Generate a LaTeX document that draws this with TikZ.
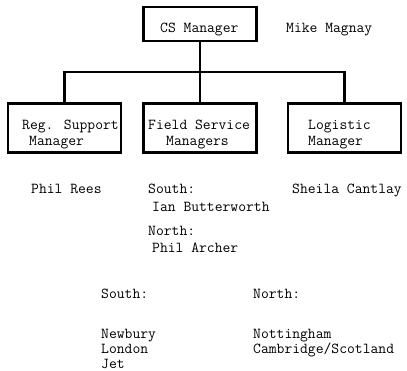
\documentclass[tikz,border=0pt]{standalone}
\usepackage{fontspec}
\begin{document}
\begin{tikzpicture}[x=1pt,y=-1pt,
  orgbox/.style={draw,line width=2.2pt,minimum width=113pt,minimum height=49pt,inner sep=0pt},
  wire/.style={line width=2.2pt},
  txt/.style={anchor=base west,inner sep=0pt,font=\ttfamily\fontsize{15.2}{18}\selectfont}]
  \useasboundingbox (0,0) rectangle (407,370);

  % boxes
  \node[orgbox,minimum height=34pt] (cs) at (200,24) {};
  \node[orgbox] (reg) at (64.5,128) {};
  \node[orgbox] (fsm) at (200,128) {};
  \node[orgbox] (log) at (344.5,128) {};

  % connectors
  \coordinate (bus) at (200,72);
  \draw[wire] (cs.south) -- (bus);
  \draw[wire] (reg.north) |- (bus) -| (log.north);
  \draw[wire] (bus) -- (fsm.north);

  % box texts
  \node[txt] (t1) at (160,32) {CS Manager};
  \node[txt] (t2) at (22,129) {Reg. Support};
  \node[txt] (t3) at (29,145) {Manager};
  \node[txt] (t4) at (148,129) {Field Service};
  \node[txt] (t5) at (166,145) {Managers};
  \node[txt] (t6) at (308,129) {Logistic};
  \node[txt] (t7) at (308,145) {Manager};

  % names
  \node[txt] (n1) at (286,32) {Mike Magnay};
  \node[txt] (n2) at (31,193) {Phil Rees};
  \node[txt] (n3) at (148,193) {South:};
  \node[txt] (n4) at (152,211) {Ian Butterworth};
  \node[txt] (n5) at (292,193) {Sheila Cantlay};
  \node[txt] (n6) at (148,235) {North:};
  \node[txt] (n7) at (152,252) {Phil Archer};

  % regions
  \node[txt] (r1) at (101,298) {South:};
  \node[txt] (r2) at (253,298) {North:};
  \node[txt] (r3) at (101,338.5) {Newbury};
  \node[txt] (r4) at (101,353.5) {London};
  \node[txt] (r5) at (101,368) {Jet};
  \node[txt] (r6) at (253,338.5) {Nottingham};
  \node[txt] (r7) at (253,353.5) {Cambridge/Scotland};
\end{tikzpicture}
\end{document}
